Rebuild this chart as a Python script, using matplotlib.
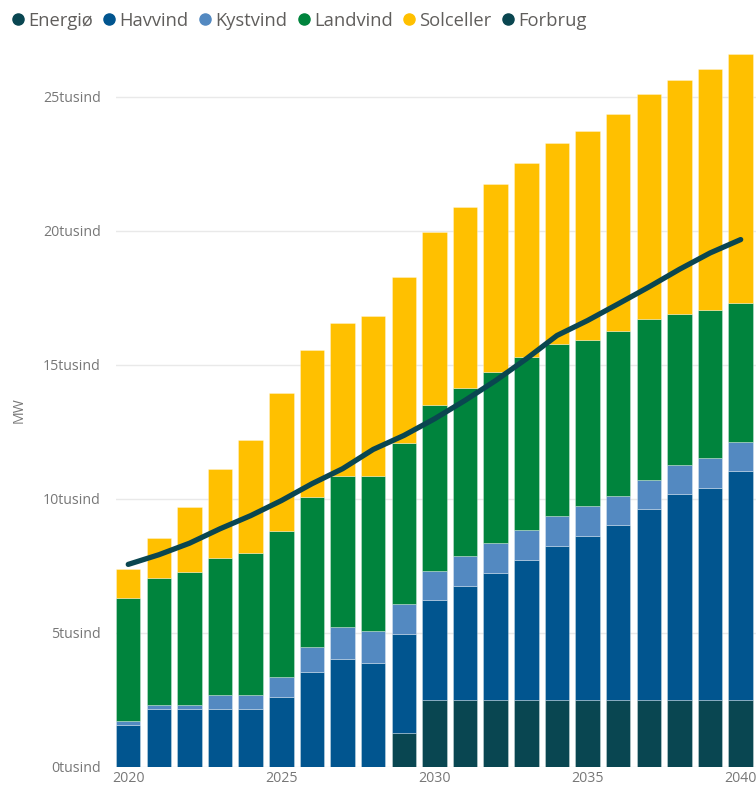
import matplotlib
matplotlib.use("Agg")
import matplotlib.pyplot as plt
from matplotlib.lines import Line2D
import numpy as np

years = list(range(2020, 2041))
energio = [0, 0, 0, 0, 0, 0, 0, 0, 0, 1260, 2510, 2510, 2510, 2510, 2510, 2510, 2510, 2510, 2510, 2510, 2510]
havvind = [1570, 2160, 2160, 2160, 2160, 2600, 3540, 4040, 3890, 3720, 3730, 4240, 4730, 5220, 5750, 6110, 6520, 7130, 7660, 7900, 8530]
kystvind = [150, 160, 160, 510, 510, 740, 930, 1170, 1170, 1120, 1090, 1110, 1120, 1130, 1100, 1100, 1080, 1070, 1090, 1110, 1080]
landvind = [4590, 4740, 4970, 5140, 5310, 5470, 5610, 5640, 5810, 5980, 6170, 6280, 6360, 6430, 6430, 6230, 6140, 5990, 5660, 5550, 5200]
solceller = [1080, 1500, 2400, 3320, 4230, 5150, 5490, 5720, 5970, 6210, 6470, 6760, 7050, 7260, 7510, 7780, 8110, 8400, 8710, 8990, 9300]
forbrug = [7560, 7920, 8350, 8890, 9380, 9940, 10570, 11130, 11850, 12370, 12990, 13680, 14420, 15230, 16100, 16660, 17280, 17910, 18570, 19180, 19680]
yticks = [0, 5000, 10000, 15000, 20000, 25000]
ytick_labels = ["0tusind", "5tusind", "10tusind", "15tusind", "20tusind", "25tusind"]
xtick_years = [2020, 2025, 2030, 2035, 2040]

series = [("Energiø", energio, "#094651"),
          ("Havvind", havvind, "#01558F"),
          ("Kystvind", kystvind, "#5389C1"),
          ("Landvind", landvind, "#00843D"),
          ("Solceller", solceller, "#FFC000")]
line_color = "#0A4650"

plt.rcParams['font.family'] = ['Open Sans', 'DejaVu Sans']

W, H = 756, 788
fig = plt.figure(figsize=(W / 100, H / 100), dpi=100)
ax_left, ax_right, ax_bottom, ax_top = 116, 756, 767, 40.7
ax = fig.add_axes([ax_left / W, (H - ax_bottom) / H, (ax_right - ax_left) / W, (ax_bottom - ax_top) / H])

x = np.arange(len(years))
bottom = np.zeros(len(years))
for name, vals, col in series:
    v = np.array(vals, dtype=float)
    ax.bar(x, v, width=0.8, bottom=bottom, color=col, edgecolor=(1, 1, 1, 0.35), linewidth=0.6, zorder=2)
    bottom += v

ax.plot(x, forbrug, color=line_color, linewidth=3.8, solid_capstyle='round', solid_joinstyle='round', zorder=3)

ax.set_xlim(-0.4, 20.5)
ax.set_ylim(0, 27100)
ax.set_yticks(yticks)
ax.set_yticklabels(ytick_labels)
ax.set_xticks([years.index(y) for y in xtick_years])
ax.set_xticklabels([str(y) for y in xtick_years])
ax.tick_params(axis='both', length=0, labelsize=10.2, labelcolor="#777777")
ax.tick_params(axis='y', pad=11)
ax.tick_params(axis='x', pad=3)
ax.grid(axis='y', color="#E9E9E9", linewidth=1, zorder=0)
ax.set_axisbelow(True)
for s in ax.spines.values():
    s.set_visible(False)
fig.text(19 / W, 1 - 410 / H, "MW", rotation=90, ha='center', va='center', fontsize=10.2, color="#777777")

handles = [Line2D([], [], marker='o', linestyle='none', markersize=8, markerfacecolor=c, markeredgecolor=c) for _, _, c in series]
handles.append(Line2D([], [], marker='o', linestyle='none', markersize=8, markerfacecolor=line_color, markeredgecolor=line_color))
labels = [n for n, _, _ in series] + ["Forbrug"]
fig.legend(handles, labels, loc='upper left', bbox_to_anchor=(-0.004, 1.0), ncol=6, frameon=False,
           fontsize=13.2, labelcolor="#605E5C", handletextpad=0.05, columnspacing=0.4, borderaxespad=0.25,
           handlelength=1.0)

fig.savefig("out.png", dpi=100)
